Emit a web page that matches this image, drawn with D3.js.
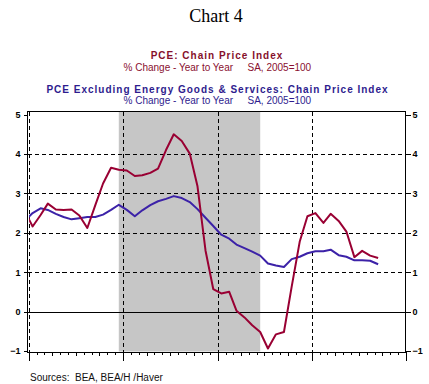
<!DOCTYPE html>
<html><head><meta charset="utf-8">
<script src="https://cdn.jsdelivr.net/npm/d3@7/dist/d3.min.js"></script>
<style>body{margin:0;background:#fff}svg{display:block;font-family:"Liberation Sans",Arial,sans-serif}</style>
</head><body><svg id="c" width="429" height="384"></svg>
<script>
// ---- data ----
const firstMonth = new Date(2006, 11, 1);   // Dec 2006
const lastMonth = new Date(2010, 8, 1);     // Sep 2010
const pceValues = [2.56,
  2.16, 2.45, 2.74, 2.59, 2.58, 2.59, 2.44, 2.12, 2.70, 3.25, 3.65, 3.60,
  3.58, 3.44, 3.46, 3.52, 3.63, 4.10, 4.50, 4.33, 4.01, 3.18, 1.55, 0.57,
  0.46, 0.50, 0.02, -0.15, -0.35, -0.52, -0.94, -0.58, -0.52, 0.63, 1.77, 2.42,
  2.50, 2.25, 2.48, 2.30, 2.03, 1.38, 1.54, 1.42, 1.36];
const coreValues = [2.30,
  2.50, 2.62, 2.58, 2.48, 2.40, 2.34, 2.37, 2.40, 2.40, 2.46, 2.58, 2.71,
  2.58, 2.42, 2.57, 2.70, 2.80, 2.86, 2.93, 2.88, 2.78, 2.60, 2.38, 2.17,
  1.95, 1.85, 1.70, 1.61, 1.52, 1.42, 1.22, 1.17, 1.13, 1.33, 1.39, 1.48,
  1.53, 1.53, 1.57, 1.43, 1.39, 1.30, 1.30, 1.29, 1.20];
const yTicks = [-1, 0, 1, 2, 3, 4, 5];
const yGrid = [1, 2, 3, 4];
const yearStarts = [2007, 2008, 2009, 2010, 2011];
const yearLabels = ["07", "08", "09", "10"];
const recession = [new Date(2007, 11, 15), new Date(2009, 5, 15)];

const months = d3.timeMonth.range(firstMonth, d3.timeMonth.offset(lastMonth, 1));
const pts = (vals) => vals.map((v, i) => ({ date: d3.timeDay.offset(months[i], 14), v }));

// ---- layout ----
const svg = d3.select("#c");
const L = 27.5, R = 405.5, T = 111.5, B = 352.5;
const x = d3.scaleTime().domain([new Date(2007, 0, 1), new Date(2011, 0, 1)]).range([29, 406]);
const y = d3.scaleLinear().domain([-1, 5]).range([350.9, 114.6]);
const red = "#990033", blue = "#3c22a8";

// titles
svg.append("text").attr("x", 216).attr("y", 21.5).attr("text-anchor", "middle")
  .style("font-family", '"Liberation Serif","Times New Roman",serif').style("font-size", "18px").text("Chart 4");
svg.append("text").attr("x", 217).attr("y", 59).attr("text-anchor", "middle")
  .style("font-size", "10px").style("font-weight", "bold").style("letter-spacing", "1px")
  .attr("fill", "#86102c").text("PCE: Chain Price Index");
function sub(yy, col) {
  const t = svg.append("text").attr("y", yy).style("font-size", "10px").attr("fill", col);
  t.append("tspan").attr("x", 123.5).text("% Change - Year to Year");
  t.append("tspan").attr("x", 247.5).text("SA, 2005=100");
}
sub(71, "#8a1030");
svg.append("text").attr("x", 217.5).attr("y", 93).attr("text-anchor", "middle")
  .style("font-size", "10px").style("font-weight", "bold").style("letter-spacing", "1px")
  .attr("fill", "#2e1c8e").text("PCE Excluding Energy Goods & Services: Chain Price Index");
sub(103.5, "#2e1c8e");

// recession shading
svg.append("rect").attr("x", x(recession[0])).attr("y", T).attr("width", x(recession[1]) - x(recession[0]))
  .attr("height", B - T - 1).attr("fill", "#c6c6c6");

const g = svg.append("g").attr("shape-rendering", "crispEdges");
// horizontal grid
g.selectAll(".hg").data(yGrid).join("line")
  .attr("x1", L).attr("x2", R).attr("y1", d => Math.round(y(d)) + 0.5).attr("y2", d => Math.round(y(d)) + 0.5)
  .attr("stroke", "#000").attr("stroke-dasharray", "4,3");
g.append("line").attr("x1", L).attr("x2", R).attr("y1", Math.round(y(0)) + 0.5).attr("y2", Math.round(y(0)) + 0.5)
  .attr("stroke", "#000");
// vertical grid at year starts
g.selectAll(".vg").data(yearStarts.slice(0, 4)).join("line")
  .attr("x1", d => Math.round(x(new Date(d, 0, 1))) + 0.5).attr("x2", d => Math.round(x(new Date(d, 0, 1))) + 0.5)
  .attr("y1", T).attr("y2", B).attr("stroke", "#000").attr("stroke-dasharray", "4,3");
// frame
g.append("path").attr("d", `M${L},${B}V${T}H${R}V${B}H${L}`).attr("fill", "none").attr("stroke", "#000");

// lines
svg.append("clipPath").attr("id", "clip").append("rect").attr("x", 29).attr("y", T).attr("width", R - 29).attr("height", B - T);
const line = d3.line().x(d => x(d.date)).y(d => y(d.v));
const lg = svg.append("g").attr("clip-path", "url(#clip)");
lg.append("path").attr("d", line(pts(coreValues))).attr("fill", "none").attr("stroke", blue).attr("stroke-width", 2).attr("stroke-linejoin", "round");
lg.append("path").attr("d", line(pts(pceValues))).attr("fill", "none").attr("stroke", red).attr("stroke-width", 2).attr("stroke-linejoin", "round");

// y axes
function styleAxis(sel) {
  sel.select(".domain").remove();
  sel.selectAll("text").style("font-size", "9px").style("font-weight", "bold").style("font-family", '"Liberation Sans",Arial,sans-serif').attr("fill", "#000");
  sel.selectAll("line").attr("stroke", "#000");
}
svg.append("g").attr("transform", `translate(${L},0)`).attr("shape-rendering", "crispEdges")
  .call(d3.axisLeft(y).tickValues(yTicks).tickSize(4).tickPadding(3).tickFormat(d3.format("d"))).call(styleAxis);
svg.append("g").attr("transform", `translate(${R},0)`).attr("shape-rendering", "crispEdges")
  .call(d3.axisRight(y).tickValues(yTicks).tickSize(5).tickPadding(2).tickFormat(d3.format("d"))).call(styleAxis);

// x axis
const xa = svg.append("g").attr("transform", `translate(0,${B})`).attr("shape-rendering", "crispEdges");
xa.call(d3.axisBottom(x).tickValues(d3.timeMonth.range(new Date(2007, 0, 1), new Date(2011, 0, 2)))
  .tickSize(0).tickFormat(""));
xa.select(".domain").remove();
xa.selectAll(".tick line").attr("stroke", "#000")
  .attr("y2", d => d.getMonth() === 0 ? 8 : (d.getMonth() % 3 === 0 ? 3 : 2));
xa.selectAll(".tick").attr("transform", d => `translate(${Math.round(x(d)) + 0.5},0)`);
xa.append("line").attr("x1", L).attr("x2", R + 1).attr("stroke", "#000");
xa.selectAll(".yl").data(yearLabels).join("text")
  .attr("x", (d, i) => x(new Date(2007 + i, 6, 2))).attr("y", 16.5).attr("text-anchor", "middle")
  .style("font-size", "9px").style("font-weight", "bold").style("letter-spacing", "0.5px").text(d => d);

svg.append("text").attr("x", 30).attr("y", 381).style("font-size", "10px").attr("fill", "#111")
  .text("Sources:  BEA, BEA/H /Haver").attr("xml:space", "preserve");
</script></body></html>
